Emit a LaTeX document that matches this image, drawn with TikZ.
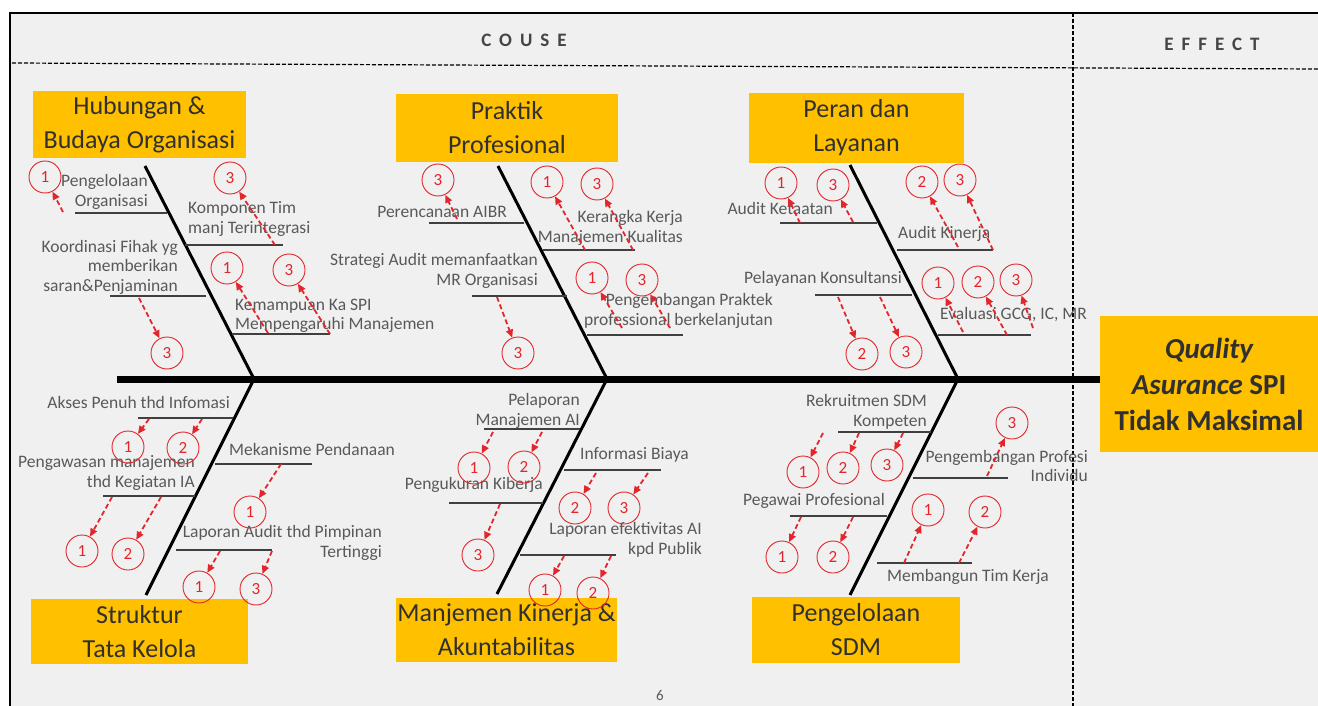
\documentclass[tikz,border=0pt]{standalone}
\usepackage{fontspec}
\setmainfont{Carlito}
\newfontfamily\spacedfont[LetterSpace=42]{Carlito}
\usetikzlibrary{arrows.meta}
\definecolor{boxorange}{HTML}{FFC000}
\definecolor{slidegrey}{HTML}{F0F0F0}
\definecolor{labelgrey}{HTML}{595959}
\definecolor{markred}{HTML}{E3262B}
\definecolor{boxtext}{HTML}{303030}

\begin{document}
\begin{tikzpicture}[x=1pt, y=-1pt,
    cat/.style = {fill=boxorange, text=boxtext, align=center, inner sep=0pt, font=\fontsize{26}{34}\selectfont,
                  execute at begin node={\rule{0pt}{27pt}}},
    head/.style = {text=boxtext!90, font=\spacedfont\bfseries\fontsize{19}{19}\selectfont},
    lbl/.style = {text=labelgrey, inner sep=0pt, font=\fontsize{17.5}{19.5}\selectfont},
    num/.style = {draw=markred, circle, line width=0.9pt, minimum size=32pt, inner sep=0pt, text=markred, font=\fontsize{17}{17}\selectfont},
    sub/.style = {draw=black!75, line width=1.4pt},
    bone/.style = {line width=3pt},
    tick/.style = {draw=markred, line width=1.8pt, dash pattern=on 5pt off 3pt, -{Triangle[length=8pt,width=7pt]}}]
\useasboundingbox (0,0) rectangle (1318,706);
\fill[white] (0,0) rectangle (1318,706);
\fill[slidegrey] (10,13) rectangle (1318,706);
\draw[line width=1.5pt] (10,706) -- (10,13) -- (1318,13);
\draw[line width=1.2pt, dash pattern=on 4pt off 2pt] (12,63) -- (1318,69);
\draw[line width=1.2pt, dash pattern=on 4pt off 2pt] (1073,13) -- (1073,706);
\node[head] (couse) at (524,40) {COUSE};
\node[head] (effect) at (1212,44) {EFFECT};
\node[text=labelgrey, font=\fontsize{15}{15}\selectfont] (page) at (660,695) {6};

% categories and effect
\node[cat, minimum width=213pt, minimum height=67pt] (hub) at (139.5,124.5) {Hubungan \&\\Budaya Organisasi};
\node[cat, minimum width=222pt, minimum height=68pt] (prk) at (507,128) {Praktik\\Profesional};
\node[cat, minimum width=215pt, minimum height=70pt] (prn) at (856.5,128) {Peran dan\\Layanan};
\node[cat, minimum width=217pt, minimum height=65pt] (stk) at (139.5,631.5) {Struktur\\Tata Kelola};
\node[cat, minimum width=221pt, minimum height=64pt] (mkj) at (506.5,630) {Manjemen Kinerja \&\\Akuntabilitas};
\node[cat, minimum width=208pt, minimum height=66pt] (sdm) at (856,630) {Pengelolaan\\SDM};
\node[cat, minimum width=218pt, minimum height=136pt, font=\bfseries\fontsize{29}{36}\selectfont] (eff) at (1209,384)
    {\itshape Quality\\{\itshape Asurance} SPI\\Tidak Maksimal};

% spine and bones
\coordinate (tail) at (117,379);
\coordinate (j1) at (254,379);
\coordinate (j2) at (607,379);
\coordinate (j3) at (958,379);
\coordinate (t1) at (145,166);
\coordinate (t2) at (498,166);
\coordinate (t3) at (850,165);
\coordinate (b1) at (146,595);
\coordinate (b2) at (497,594);
\coordinate (b3) at (850,595);
\draw[line width=7pt] (tail) -- (tail -| eff.west);
\draw[bone] (t1) -- (j1) -- (b1);
\draw[bone] (t2) -- (j2) -- (b2);
\draw[bone] (t3) -- (j3) -- (b3);

% Hubungan & Budaya Organisasi
\node[lbl, align=right, anchor=east] (hubA) at (148,192) {Pengelolaan\\Organisasi};
\node[lbl, align=left, anchor=west] (hubB) at (188,219) {Komponen Tim\\manj Terintegrasi};
\node[lbl, align=right, anchor=east] (hubC) at (178,267) {Koordinasi Fihak yg\\memberikan\\saran\&Penjaminan};
\node[lbl, align=left, anchor=west] (hubD) at (235,316) {Kemampuan Ka SPI\\Mempengaruhi Manajemen};
\draw[sub] (75,213) -- (167,213);
\draw[sub] (185,245) -- (283,245);
\draw[sub] (110,296) -- (206,296);
\draw[sub] (232,334) -- (330,334);
\node[num] (hubA1) at (45,177) {1};
\node[num] (hubB3) at (230,178) {3};
\node[num] (hubC3) at (167,353) {3};
\node[num] (hubD1) at (227,268) {1};
\node[num] (hubD3) at (289,270) {3};
\coordinate (hubAs1) at (63,212);
\coordinate (hubBs3) at (275,245);
\coordinate (hubCs3) at (139,298);
\coordinate (hubDs1) at (268,333);
\coordinate (hubDs3) at (330,334);
\draw[tick] (hubAs1) -- (hubA1);
\draw[tick] (hubBs3) -- (hubB3);
\draw[tick] (hubCs3) -- (hubC3);
\draw[tick] (hubDs1) -- (hubD1);
\draw[tick] (hubDs3) -- (hubD3);

% Praktik Profesional
\node[lbl, anchor=east] (prkA) at (507,212) {Perencanaan AIBR};
\node[lbl, align=right, anchor=east] (prkB) at (683,228) {Kerangka Kerja\\Manajemen Kualitas};
\node[lbl, align=right, anchor=east] (prkC) at (538,271) {Strategi Audit memanfaatkan\\MR Organisasi};
\node[lbl, align=right, anchor=east] (prkD) at (773,311) {Pengembangan Praktek\\professional berkelanjutan};
\draw[sub] (429,223) -- (524,223);
\draw[sub] (543,250) -- (635,250);
\draw[sub] (472,296) -- (567,296);
\draw[sub] (587,335) -- (683,335);
\node[num] (prkA3) at (438,180) {3};
\node[num] (prkB1) at (547,182) {1};
\node[num] (prkB3) at (597,184) {3};
\node[num] (prkC3) at (518,353) {3};
\node[num] (prkD1) at (592,278) {1};
\node[num] (prkD3) at (642,280) {3};
\coordinate (prkAs3) at (457,219);
\coordinate (prkBs1) at (585,250);
\coordinate (prkBs3) at (633,250);
\coordinate (prkCs3) at (497,297);
\coordinate (prkDs1) at (622,328);
\coordinate (prkDs3) at (670,328);
\draw[tick] (prkAs3) -- (prkA3);
\draw[tick] (prkBs1) -- (prkB1);
\draw[tick] (prkBs3) -- (prkB3);
\draw[tick] (prkCs3) -- (prkC3);
\draw[tick] (prkDs1) -- (prkD1);
\draw[tick] (prkDs3) -- (prkD3);

% Peran dan Layanan
\node[lbl, anchor=east] (prnA) at (833,208) {Audit Ketaatan};
\node[lbl, anchor=west] (prnB) at (898,234) {Audit Kinerja};
\node[lbl, anchor=east] (prnC) at (902,279) {Pelayanan Konsultansi};
\node[lbl, anchor=west] (prnD) at (940,315) {Evaluasi GCG, IC, MR};
\draw[sub] (780,223) -- (877,223);
\draw[sub] (897,250) -- (993,250);
\draw[sub] (815,295) -- (912,295);
\draw[sub] (938,335) -- (1031,335);
\node[num] (prnA1) at (781,183) {1};
\node[num] (prnA3) at (833,185) {3};
\node[num] (prnB2) at (922,182) {2};
\node[num] (prnB3) at (960,180) {3};
\node[num] (prnC2) at (862,354) {2};
\node[num] (prnC3) at (906,352) {3};
\node[num] (prnD1) at (938,283) {1};
\node[num] (prnD2) at (978,282) {2};
\node[num] (prnD3) at (1016,280) {3};
\coordinate (prnAs1) at (800,223);
\coordinate (prnAs3) at (853,222);
\coordinate (prnBs2) at (958,247);
\coordinate (prnBs3) at (993,250);
\coordinate (prnCs2) at (838,297);
\coordinate (prnCs3) at (880,297);
\coordinate (prnDs1) at (963,332);
\coordinate (prnDs2) at (1007,335);
\coordinate (prnDs3) at (1033,328);
\draw[tick] (prnAs1) -- (prnA1);
\draw[tick] (prnAs3) -- (prnA3);
\draw[tick] (prnBs2) -- (prnB2);
\draw[tick] (prnBs3) -- (prnB3);
\draw[tick] (prnCs2) -- (prnC2);
\draw[tick] (prnCs3) -- (prnC3);
\draw[tick] (prnDs1) -- (prnD1);
\draw[tick] (prnDs2) -- (prnD2);
\draw[tick] (prnDs3) -- (prnD3);

% Struktur Tata Kelola
\node[lbl, anchor=east] (stkA) at (230,402) {Akses Penuh thd Infomasi};
\node[lbl, anchor=west] (stkB) at (229,449) {Mekanisme Pendanaan};
\node[lbl, align=right, anchor=east] (stkC) at (195,473) {Pengawasan manajemen\\thd Kegiatan IA};
\node[lbl, align=right, anchor=east] (stkD) at (382,543) {Laporan Audit thd Pimpinan\\Tertinggi};
\draw[sub] (138,418) -- (233,418);
\draw[sub] (215,464) -- (312,464);
\draw[sub] (103,496) -- (195,496);
\draw[sub] (176,550) -- (272,550);
\node[num] (stkA1) at (128,447) {1};
\node[num] (stkA2) at (183,448) {2};
\node[num] (stkB1) at (250,512) {1};
\node[num] (stkC1) at (82,551) {1};
\node[num] (stkC2) at (128,554) {2};
\node[num] (stkD1) at (199,587) {1};
\node[num] (stkD3) at (256,589) {3};
\coordinate (stkAs1) at (149,419);
\coordinate (stkAs2) at (202,419);
\coordinate (stkBs1) at (281,464);
\coordinate (stkCs1) at (112,497);
\coordinate (stkCs2) at (161,497);
\coordinate (stkDs1) at (220,551);
\coordinate (stkDs3) at (272,551);
\draw[tick] (stkAs1) -- (stkA1);
\draw[tick] (stkAs2) -- (stkA2);
\draw[tick] (stkBs1) -- (stkB1);
\draw[tick] (stkCs1) -- (stkC1);
\draw[tick] (stkCs2) -- (stkC2);
\draw[tick] (stkDs1) -- (stkD1);
\draw[tick] (stkDs3) -- (stkD3);

% Manjemen Kinerja & Akuntabilitas
\node[lbl, align=right, anchor=east] (mkjA) at (580,411) {Pelaporan\\Manajemen AI};
\node[lbl, anchor=west] (mkjB) at (580,455) {Informasi Biaya};
\node[lbl, anchor=east] (mkjC) at (543,485) {Pengukuran Kiberja};
\node[lbl, align=right, anchor=east] (mkjD) at (702,540) {Laporan efektivitas AI\\kpd Publik};
\draw[sub] (484,429) -- (580,429);
\draw[sub] (564,470) -- (661,470);
\draw[sub] (449,503) -- (543,503);
\draw[sub] (520,555) -- (616,555);
\node[num] (mkjA1) at (474,468) {1};
\node[num] (mkjA2) at (524,467) {2};
\node[num] (mkjB2) at (575,508) {2};
\node[num] (mkjB3) at (624,508) {3};
\node[num] (mkjC3) at (478,555) {3};
\node[num] (mkjD1) at (545,590) {1};
\node[num] (mkjD2) at (593,593) {2};
\coordinate (mkjAs1) at (493,432);
\coordinate (mkjAs2) at (542,432);
\coordinate (mkjBs2) at (596,473);
\coordinate (mkjBs3) at (648,473);
\coordinate (mkjCs3) at (500,504);
\coordinate (mkjDs1) at (564,556);
\coordinate (mkjDs2) at (611,556);
\draw[tick] (mkjAs1) -- (mkjA1);
\draw[tick] (mkjAs2) -- (mkjA2);
\draw[tick] (mkjBs2) -- (mkjB2);
\draw[tick] (mkjBs3) -- (mkjB3);
\draw[tick] (mkjCs3) -- (mkjC3);
\draw[tick] (mkjDs1) -- (mkjD1);
\draw[tick] (mkjDs2) -- (mkjD2);

% Pengelolaan SDM
\node[lbl, align=right, anchor=east] (sdmA) at (927,412) {Rekruitmen SDM\\Kompeten};
\node[lbl, align=right, anchor=east] (sdmB) at (1088,466) {Pengembangan Profesi\\Individu};
\node[lbl, anchor=east] (sdmC) at (885,501) {Pegawai Profesional};
\node[lbl, anchor=west] (sdmD) at (887,577) {Membangun Tim Kerja};
\draw[sub] (838,432) -- (931,432);
\draw[sub] (913,478) -- (1008,478);
\draw[sub] (790,516) -- (887,516);
\draw[sub] (877,563) -- (972,563);
\node[num] (sdmA1) at (803,472) {1};
\node[num] (sdmA2) at (843,468) {2};
\node[num] (sdmA3) at (887,465) {3};
\node[num] (sdmB3) at (1012,423) {3};
\node[num] (sdmC1) at (782,557) {1};
\node[num] (sdmC2) at (833,557) {2};
\node[num] (sdmD1) at (928,510) {1};
\node[num] (sdmD2) at (985,512) {2};
\coordinate (sdmAs1) at (823,433);
\coordinate (sdmAs2) at (859,433);
\coordinate (sdmAs3) at (903,433);
\coordinate (sdmBs3) at (987,476);
\coordinate (sdmCs1) at (801,517);
\coordinate (sdmCs2) at (853,517);
\coordinate (sdmDs1) at (904,563);
\coordinate (sdmDs2) at (959,563);
\draw[tick] (sdmAs1) -- (sdmA1);
\draw[tick] (sdmAs2) -- (sdmA2);
\draw[tick] (sdmAs3) -- (sdmA3);
\draw[tick] (sdmBs3) -- (sdmB3);
\draw[tick] (sdmCs1) -- (sdmC1);
\draw[tick] (sdmCs2) -- (sdmC2);
\draw[tick] (sdmDs1) -- (sdmD1);
\draw[tick] (sdmDs2) -- (sdmD2);
\end{tikzpicture}
\end{document}
